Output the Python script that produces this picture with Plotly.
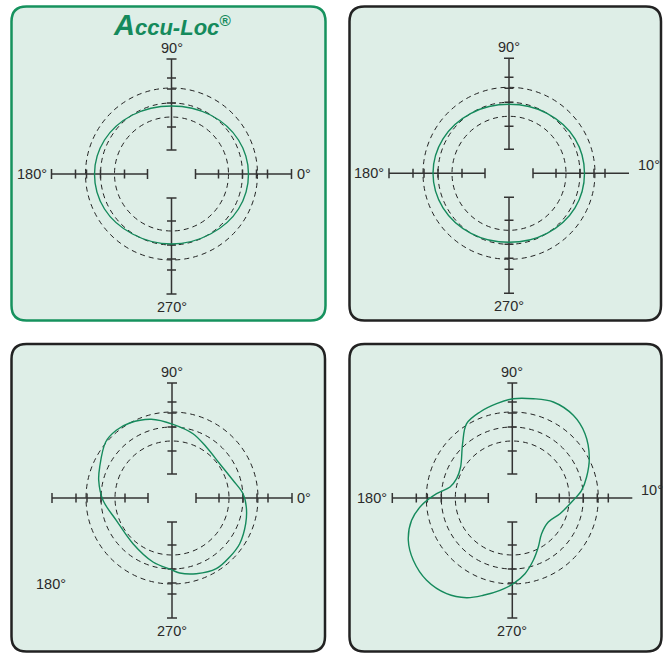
import plotly.graph_objects as go

W, H = 664, 654

# ---------------- data (deviation units) ----------------
p1_x = [77, 67, 39, 0, -39, -67, -77, -67, -39, 0, 39, 67]
p1_y = [0, 34, 59, 68, 59, 34, 0, -35, -60, -70, -60, -35]

p2_x = [75.5, 66, 38, 0, -38, -66, -76, -66, -38, 0, 38, 66]
p2_y = [0, 34.5, 60, 69, 60, 34.5, 0, -34.5, -60, -69, -60, -34.5]

p3_x = [71, 74.3, 73.7, 67.7, 57.7, 44.3, 24.3, 7.7, -0.7, -19, -39, -55.7,
        -69, -73.3, -72.3, -66.3, -55.7, -42.3, -20.7, 1, 21, 34.3, 47.7, 61]
p3_y = [4.3, -9, -25.7, -45.7, -59, -70.7, -75.7, -75, -71.7, -64, -45.7, -22.3,
        -2.3, 17.7, 31, 56, 67.7, 75, 78.7, 73.7, 64.3, 51, 34.3, 17.7]

p4_x = [1, 21, 41, 61, 72.7, 77, 74.3, 69.3, 61, 47.7, 36, 29.3, 26, 21, 12.7, 1,
        -12.3, -29, -45.7, -65.7, -85.7, -99, -104, -100.7, -90.7, -75.7, -62.3,
        -55.7, -51.7, -49.7, -45.7, -32.3, -15.7]
p4_y = [99.3, 99.3, 96, 82.7, 64.3, 41, 21, 7.7, -2.3, -15.7, -24, -35.7, -49,
        -62.3, -75.7, -85.7, -92.3, -97.3, -99.7, -95.7, -82.3, -62.3, -42.3,
        -22.3, -7.3, 4.3, 11, 19.3, 31, 54.3, 74.3, 86, 94.3]

curves_x = [p1_x, p2_x, p3_x, p4_x]
curves_y = [p1_y, p2_y, p3_y, p4_y]

ring_radii = [57, 71, 86]          # dashed reference circles
tick_marks = [47, 71, 85, 96]      # scale ticks along each arm
arm_inner = 24
arm_outer = 120
arm_outer_top = 115

label_top = ["90°", "90°", "90°", "90°"]
label_bottom = ["270°", "270°", "270°", "270°"]
label_left = ["180°", "180°", None, "180°"]
label_right = ["0°", "10°", "0°", "10°"]
label_extra = [None, None, "180°", None]
title_text = "Accu-Loc"

# ---------------- layout geometry ----------------
centers = [(171.5, 174), (509, 173.3), (172, 498), (512.3, 498)]
boxes = [(11.5, 6.5, 325.5, 320.5), (349.5, 6.5, 661, 320.5),
         (11.5, 344, 325, 651.5), (349.5, 344, 661.5, 651.5)]
box_colors = ["#16925e", "#222222", "#222222", "#222222"]
right_cap = [True, False, True, False]
S = 148

BG = "#deeee7"
GREEN = "#158a5c"
AX = "#333333"
FONT = "Liberation Sans, Arial, sans-serif"

fig = go.Figure()


def X(px):
    return px / W


def Y(py):
    return 1 - py / H


def rrect(x0, y0, x1, y1, r):
    pts = [
        ("M", [(x0 + r, y0)]),
        ("L", [(x1 - r, y0)]),
        ("Q", [(x1, y0), (x1, y0 + r)]),
        ("L", [(x1, y1 - r)]),
        ("Q", [(x1, y1), (x1 - r, y1)]),
        ("L", [(x0 + r, y1)]),
        ("Q", [(x0, y1), (x0, y1 - r)]),
        ("L", [(x0, y0 + r)]),
        ("Q", [(x0, y0), (x0 + r, y0)]),
    ]
    s = ""
    for cmd, ps in pts:
        s += cmd + " " + " ".join(f"{X(a):.5f},{Y(b):.5f}" for a, b in ps) + " "
    return s + "Z"


for i in range(4):
    x0, y0, x1, y1 = boxes[i]
    fig.add_shape(type="path", path=rrect(x0, y0, x1, y1, 15), xref="paper", yref="paper",
                  fillcolor=BG, line=dict(color=box_colors[i], width=2.5), layer="below")

for i in range(4):
    cx, cy = centers[i]
    n = "" if i == 0 else str(i + 1)
    fig.update_layout(**{
        f"xaxis{n}": dict(domain=[X(cx - S), X(cx + S)], range=[-S, S], visible=False,
                          fixedrange=True, anchor=f"y{n}"),
        f"yaxis{n}": dict(domain=[Y(cy + S), Y(cy - S)], range=[-S, S], visible=False,
                          fixedrange=True, anchor=f"x{n}"),
    })
    xr, yr = f"x{n}", f"y{n}"

    for r in ring_radii:
        fig.add_shape(type="circle", xref=xr, yref=yr, x0=-r, y0=-r, x1=r, y1=r,
                      line=dict(color="#222222", width=1, dash="5px,4px"), layer="below")

    # crosshair arms with ticks
    xs, ys = [], []
    arms = [((1, 0), arm_outer, right_cap[i]), ((-1, 0), arm_outer, True),
            ((0, 1), arm_outer_top, True), ((0, -1), arm_outer, True)]
    for (ux, uy), L, cap in arms:
        px_, py_ = -uy, ux
        xs += [ux * arm_inner, ux * L, None]
        ys += [uy * arm_inner, uy * L, None]
        marks = [(arm_inner, 5)] + [(t, 4.5) for t in tick_marks if t < L]
        if cap:
            marks.append((L, 5))
        for t, h in marks:
            xs += [ux * t + px_ * h, ux * t - px_ * h, None]
            ys += [uy * t + py_ * h, uy * t - py_ * h, None]
    fig.add_trace(go.Scatter(x=xs, y=ys, mode="lines", line=dict(color=AX, width=1.5),
                             xaxis=xr, yaxis=yr, hoverinfo="skip", showlegend=False))

    # measured curve (closed smooth)
    cxs = list(curves_x[i]) + [curves_x[i][0]]
    cys = list(curves_y[i]) + [curves_y[i][0]]
    fig.add_trace(go.Scatter(x=cxs, y=cys, mode="lines", fill="toself",
                             fillcolor="rgba(0,0,0,0)",
                             line=dict(color=GREEN, width=1.4, shape="spline", smoothing=1),
                             xaxis=xr, yaxis=yr, hoverinfo="skip", showlegend=False))

    f = dict(family=FONT, size=14.5, color="#2a2a2a")
    fig.add_annotation(x=0, y=126, xref=xr, yref=yr, text=label_top[i], showarrow=False,
                       font=f, xanchor="center", yanchor="middle")
    fig.add_annotation(x=0, y=-133, xref=xr, yref=yr, text=label_bottom[i], showarrow=False,
                       font=f, xanchor="center", yanchor="middle")
    if label_left[i]:
        fig.add_annotation(x=-122, y=0, xref=xr, yref=yr, text=label_left[i],
                           showarrow=False, font=f, xanchor="right", yanchor="middle",
                           xshift=-1)
    if label_right[i]:
        ry = 0 if right_cap[i] else 8
        rx = 123 if right_cap[i] else 127
        fig.add_annotation(x=rx, y=ry, xref=xr, yref=yr, text=label_right[i],
                           showarrow=False, font=f, xanchor="left", yanchor="middle")
    if label_extra[i]:
        fig.add_annotation(x=-121, y=-86, xref=xr, yref=yr, text=label_extra[i],
                           showarrow=False, font=f, xanchor="center", yanchor="middle")

fig.add_annotation(
    x=X(172), y=Y(25), xref="paper", yref="paper", showarrow=False,
    text=f"<b><i><span style='font-size:29px'>{title_text[0]}</span>{title_text[1:]}"
         f"<sup>®</sup></i></b>",
    font=dict(family=FONT, size=22, color=GREEN), xanchor="center", yanchor="middle")

fig.update_layout(width=W, height=H, margin=dict(l=0, r=0, t=0, b=0),
                  paper_bgcolor="white", plot_bgcolor="rgba(0,0,0,0)", showlegend=False)

fig.write_html("out.html", config={"displayModeBar": False},
               post_script="document.body.style.margin='0';"
                           "document.body.style.overflow='hidden';")
